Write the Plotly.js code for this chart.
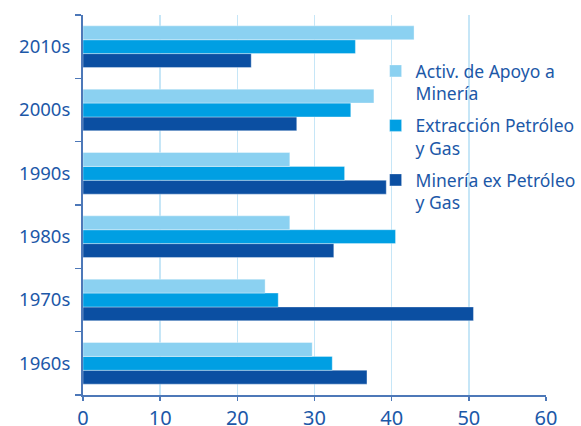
<!DOCTYPE html>
<html>
<head>
<meta charset="utf-8">
<script src="https://cdn.plot.ly/plotly-3.0.1.min.js"></script>
<style>
  html, body { margin: 0; padding: 0; background: #ffffff; }
  #chart { width: 581px; height: 426px; }
</style>
</head>
<body>
<div id="chart"></div>
<script>
// Decades on the category axis (bottom to top)
const decades = ['1960s', '1970s', '1980s', '1990s', '2000s', '2010s'];

// Series values per decade
const apoyoMineria = [29.7, 23.6, 26.8, 26.8, 37.7, 42.9];
const extraccionPetroleoGas = [32.3, 25.3, 40.5, 33.9, 34.7, 35.3];
const mineriaExPetroleoGas = [36.8, 50.6, 32.5, 39.3, 27.7, 21.8];

// Legend labels
const seriesNames = [
  'Activ. de Apoyo a<br>Minería',
  'Extracción Petróleo<br>y Gas',
  'Minería ex Petróleo<br>y Gas'
];

const xTicks = [0, 10, 20, 30, 40, 50, 60];

const textBlue = '#1c58a8';
const axisBlue = '#4d78b8';
const gridBlue = '#c6e6f7';

function barTrace(name, values, color, group, rank) {
  return {
    type: 'bar',
    orientation: 'h',
    name: name,
    x: values,
    y: decades,
    legendgroup: group,
    legendrank: rank,
    marker: { color: color, line: { color: 'rgba(255,255,255,0.35)', width: 1 } },
    hoverinfo: 'x+name'
  };
}

// Horizontal grouped bars: first trace sits lowest within each group
const data = [
  barTrace(seriesNames[2], mineriaExPetroleoGas, '#0b4fa2', 'c', 3),
  barTrace(seriesNames[1], extraccionPetroleoGas, '#009fe3', 'b', 2),
  barTrace(seriesNames[0], apoyoMineria, '#8bd1f1', 'a', 1)
];

const layout = {
  width: 581,
  height: 426,
  // fixed plot area; the legend floats over the right part of the grid
  margin: { l: 83, r: 35, t: 15, b: 31, autoexpand: false },
  paper_bgcolor: '#ffffff',
  plot_bgcolor: '#ffffff',
  font: { family: 'Noto Sans, Open Sans, sans-serif', color: textBlue, size: 18 },
  barmode: 'group',
  bargap: 0.343,
  bargroupgap: 0,
  showlegend: true,
  legend: {
    x: 0.632,
    y: 0.9,
    xanchor: 'left',
    yanchor: 'top',
    bgcolor: 'rgba(0,0,0,0)',
    traceorder: 'grouped',
    tracegroupgap: 6,
    valign: 'top',
    itemwidth: 30,
    font: { size: 17.5, color: textBlue }
  },
  xaxis: {
    range: [0, 60],
    tickvals: xTicks,
    ticktext: xTicks.map(String),
    showgrid: true,
    gridcolor: gridBlue,
    gridwidth: 1.5,
    zeroline: false,
    showline: true,
    linecolor: axisBlue,
    linewidth: 2,
    ticks: 'outside',
    ticklen: 4,
    tickcolor: axisBlue,
    tickwidth: 1.5,
    tickfont: { size: 20, color: textBlue },
    fixedrange: true
  },
  yaxis: {
    type: 'category',
    categoryorder: 'array',
    categoryarray: decades,
    showgrid: false,
    zeroline: false,
    showline: true,
    linecolor: axisBlue,
    linewidth: 2,
    ticks: 'outside',
    tickson: 'boundaries',
    ticklen: 6,
    tickcolor: axisBlue,
    tickwidth: 1.5,
    ticklabelstandoff: 7,
    tickfont: { size: 18.5, color: textBlue },
    fixedrange: true
  }
};

Plotly.newPlot('chart', data, layout, { displayModeBar: false, staticPlot: true });
</script>
</body>
</html>
